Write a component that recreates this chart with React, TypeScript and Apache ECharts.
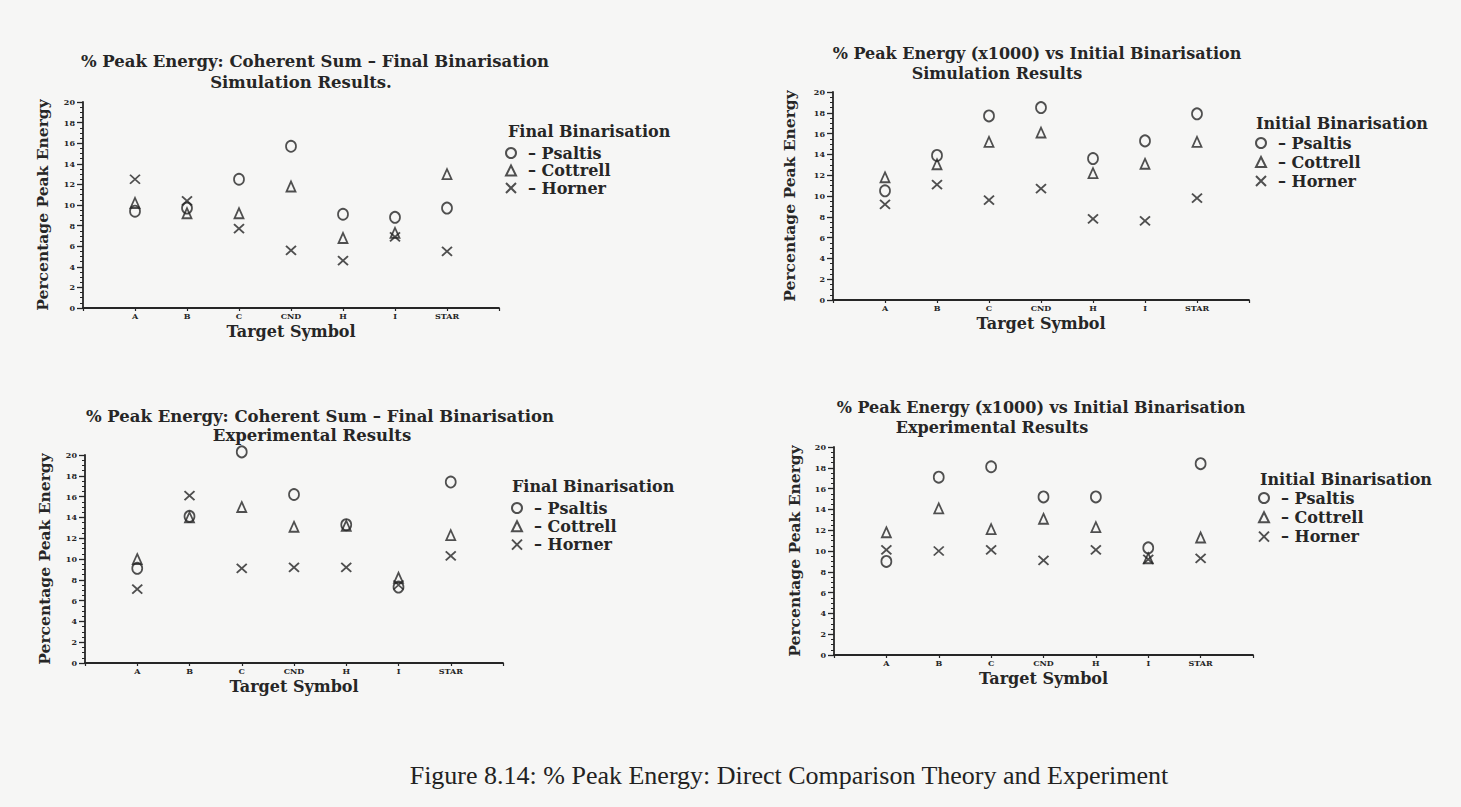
import React, { useEffect, useRef } from "react";
import * as echarts from "echarts";

const categories = ["A", "B", "C", "CND", "H", "I", "STAR"];
const yTicks = [0, 2, 4, 6, 8, 10, 12, 14, 16, 18, 20];

// Top-left: Coherent Sum - Final Binarisation, simulation
const simFinalPsaltis = [9.4, 9.7, 12.5, 15.7, 9.1, 8.8, 9.7];
const simFinalCottrell = [10.2, 9.2, 9.2, 11.8, 6.8, 7.3, 13.0];
const simFinalHorner = [12.5, 10.4, 7.7, 5.6, 4.6, 6.9, 5.5];

// Top-right: (x1000) vs Initial Binarisation, simulation
const simInitPsaltis = [10.5, 13.9, 17.7, 18.5, 13.6, 15.3, 17.9];
const simInitCottrell = [11.8, 13.05, 15.2, 16.1, 12.2, 13.1, 15.2];
const simInitHorner = [9.2, 11.1, 9.6, 10.7, 7.8, 7.6, 9.8];

// Bottom-left: Coherent Sum - Final Binarisation, experimental
const expFinalPsaltis = [9.1, 14.1, 20.3, 16.2, 13.3, 7.3, 17.4];
const expFinalCottrell = [10.0, 14.0, 15.0, 13.1, 13.2, 8.2, 12.3];
const expFinalHorner = [7.1, 16.1, 9.1, 9.2, 9.2, 7.5, 10.3];

// Bottom-right: (x1000) vs Initial Binarisation, experimental
const expInitPsaltis = [9.0, 17.1, 18.1, 15.2, 15.2, 10.3, 18.4];
const expInitCottrell = [11.8, 14.1, 12.1, 13.1, 12.3, 9.3, 11.3];
const expInitHorner = [10.1, 10.0, 10.1, 9.1, 10.1, 9.2, 9.3];

const seriesNames = ["Psaltis", "Cottrell", "Horner"];

const INK = "#262626";
const FONT = "DejaVu Serif";
const X_PATH = "path://M0,0L10,10M10,0L0,10";
const symbols = ["circle", "triangle", X_PATH];
const symbolSizes: any[] = [[10, 11], [9, 10], [10, 9]];

type Panel = {
  grid: { left: number; top: number; width: number; height: number };
  title1: string;
  title1Pos: [number, number];
  title2: string;
  title2Pos: [number, number];
  titleSize: number;
  legendTitle: string;
  legendTitlePos: [number, number];
  legendPos: [number, number];
  legendGap: number;
  yNameGap: number;
  xNameGap: number;
  values: number[][];
};

const panels: Panel[] = [
  {
    grid: { left: 83, top: 102, width: 416, height: 206 },
    title1: "% Peak Energy: Coherent Sum \u2013 Final Binarisation",
    title1Pos: [315, 61],
    title2: "Simulation Results.",
    title2Pos: [301, 82],
    titleSize: 16.5,
    legendTitle: "Final Binarisation",
    legendTitlePos: [508, 131],
    legendPos: [505, 145],
    legendGap: 1.5,
    yNameGap: 33,
    xNameGap: 15.5,
    values: [simFinalPsaltis, simFinalCottrell, simFinalHorner],
  },
  {
    grid: { left: 833, top: 92, width: 416, height: 208 },
    title1: "% Peak Energy (x1000) vs Initial Binarisation",
    title1Pos: [1037, 53],
    title2: "Simulation Results",
    title2Pos: [997, 73],
    titleSize: 16,
    legendTitle: "Initial Binarisation",
    legendTitlePos: [1256, 123],
    legendPos: [1255, 135],
    legendGap: 3,
    yNameGap: 35.5,
    xNameGap: 15,
    values: [simInitPsaltis, simInitCottrell, simInitHorner],
  },
  {
    grid: { left: 85, top: 455, width: 418, height: 208 },
    title1: "% Peak Energy: Coherent Sum \u2013 Final Binarisation",
    title1Pos: [320, 416],
    title2: "Experimental Results",
    title2Pos: [312, 435],
    titleSize: 16.5,
    legendTitle: "Final Binarisation",
    legendTitlePos: [512, 486],
    legendPos: [511, 500],
    legendGap: 2.3,
    yNameGap: 32.5,
    xNameGap: 15.3,
    values: [expFinalPsaltis, expFinalCottrell, expFinalHorner],
  },
  {
    grid: { left: 834, top: 447, width: 419, height: 208 },
    title1: "% Peak Energy (x1000) vs Initial Binarisation",
    title1Pos: [1041, 407],
    title2: "Experimental Results",
    title2Pos: [992, 427],
    titleSize: 16,
    legendTitle: "Initial Binarisation",
    legendTitlePos: [1260, 479],
    legendPos: [1258, 490],
    legendGap: 3.3,
    yNameGap: 32,
    xNameGap: 15,
    values: [expInitPsaltis, expInitCottrell, expInitHorner],
  },
];

const caption = "Figure 8.14: % Peak Energy: Direct Comparison Theory and Experiment";

function buildOption() {
  const grids: any[] = [];
  const xAxes: any[] = [];
  const yAxes: any[] = [];
  const series: any[] = [];
  const legends: any[] = [];
  const graphics: any[] = [];

  panels.forEach((p, i) => {
    grids.push({ ...p.grid, containLabel: false });
    xAxes.push({
      type: "value",
      gridIndex: i,
      min: 0,
      max: categories.length + 1,
      interval: 1,
      name: "Target Symbol",
      nameLocation: "middle",
      nameGap: p.xNameGap,
      nameTextStyle: { fontFamily: FONT, fontWeight: "bold", fontSize: 16, color: INK },
      axisLine: { show: true, lineStyle: { color: INK, width: 1.8 } },
      axisTick: { show: true, length: 3, lineStyle: { color: INK, width: 1.2 } },
      splitLine: { show: false },
      axisLabel: {
        margin: 4,
        fontFamily: FONT,
        fontWeight: "bold",
        fontSize: 8,
        color: INK,
        formatter: (v: number) => categories[v - 1] ?? "",
      },
    });
    yAxes.push({
      type: "value",
      gridIndex: i,
      min: yTicks[0],
      max: yTicks[yTicks.length - 1],
      interval: 2,
      name: "Percentage Peak Energy",
      nameLocation: "middle",
      nameRotate: 90,
      nameGap: p.yNameGap,
      nameTextStyle: { fontFamily: FONT, fontWeight: "bold", fontSize: 15.5, color: INK },
      axisLine: { show: true, lineStyle: { color: INK, width: 1.8 } },
      axisTick: { show: true, length: 6, lineStyle: { color: INK, width: 1.3 } },
      minorTick: { show: true, splitNumber: 4, length: 3, lineStyle: { color: INK, width: 1 } },
      splitLine: { show: false },
      minorSplitLine: { show: false },
      axisLabel: {
        margin: 8,
        fontFamily: FONT,
        fontWeight: "bold",
        fontSize: 8,
        color: INK,
      },
    });
    p.values.forEach((vals, s) => {
      series.push({
        type: "scatter",
        name: seriesNames[s],
        xAxisIndex: i,
        yAxisIndex: i,
        clip: false,
        symbol: symbols[s],
        symbolSize: symbolSizes[s],
        itemStyle: { color: "rgba(0,0,0,0)", borderColor: INK, borderWidth: 1.8 },
        data: vals.map((v, k) => [k + 1, v]),
      });
    });
    legends.push({
      orient: "vertical",
      left: p.legendPos[0],
      top: p.legendPos[1],
      padding: 0,
      itemWidth: 10,
      itemHeight: 10,
      itemGap: p.legendGap,
      selectedMode: false,
      formatter: "\u2013 {name}",
      textStyle: {
        fontFamily: FONT,
        fontWeight: "bold",
        fontSize: 16,
        lineHeight: 16,
        color: INK,
        padding: [0, 0, 0, 7],
      },
      data: seriesNames.map((n, s) => ({ name: n, icon: symbols[s] })),
    });
    graphics.push(
      {
        type: "text",
        x: p.title1Pos[0],
        y: p.title1Pos[1],
        style: {
          text: p.title1,
          fontFamily: FONT,
          fontWeight: "bold",
          fontSize: p.titleSize,
          fill: INK,
          align: "center",
          verticalAlign: "middle",
        },
      },
      {
        type: "text",
        x: p.title2Pos[0],
        y: p.title2Pos[1],
        style: {
          text: p.title2,
          fontFamily: FONT,
          fontWeight: "bold",
          fontSize: p.titleSize,
          fill: INK,
          align: "center",
          verticalAlign: "middle",
        },
      },
      {
        type: "text",
        x: p.legendTitlePos[0],
        y: p.legendTitlePos[1],
        style: {
          text: p.legendTitle,
          fontFamily: FONT,
          fontWeight: "bold",
          fontSize: 16,
          fill: INK,
          align: "left",
          verticalAlign: "middle",
        },
      }
    );
  });

  graphics.push({
    type: "text",
    x: 789,
    y: 775,
    style: {
      text: caption,
      fontFamily: "Liberation Serif",
      fontSize: 26,
      fill: "#222222",
      align: "center",
      verticalAlign: "middle",
    },
  });

  return {
    animation: false,
    backgroundColor: "#f6f6f5",
    grid: grids,
    xAxis: xAxes,
    yAxis: yAxes,
    legend: legends,
    series,
    graphic: graphics,
  };
}

export default function App() {
  const ref = useRef<HTMLDivElement>(null);
  useEffect(() => {
    if (!ref.current) return;
    const chart = echarts.init(ref.current, undefined, { renderer: "svg" });
    chart.setOption(buildOption());
    return () => chart.dispose();
  }, []);
  return (
    <div
      ref={ref}
      style={{ position: "fixed", left: 0, top: 0, width: 1461, height: 807 }}
    />
  );
}
